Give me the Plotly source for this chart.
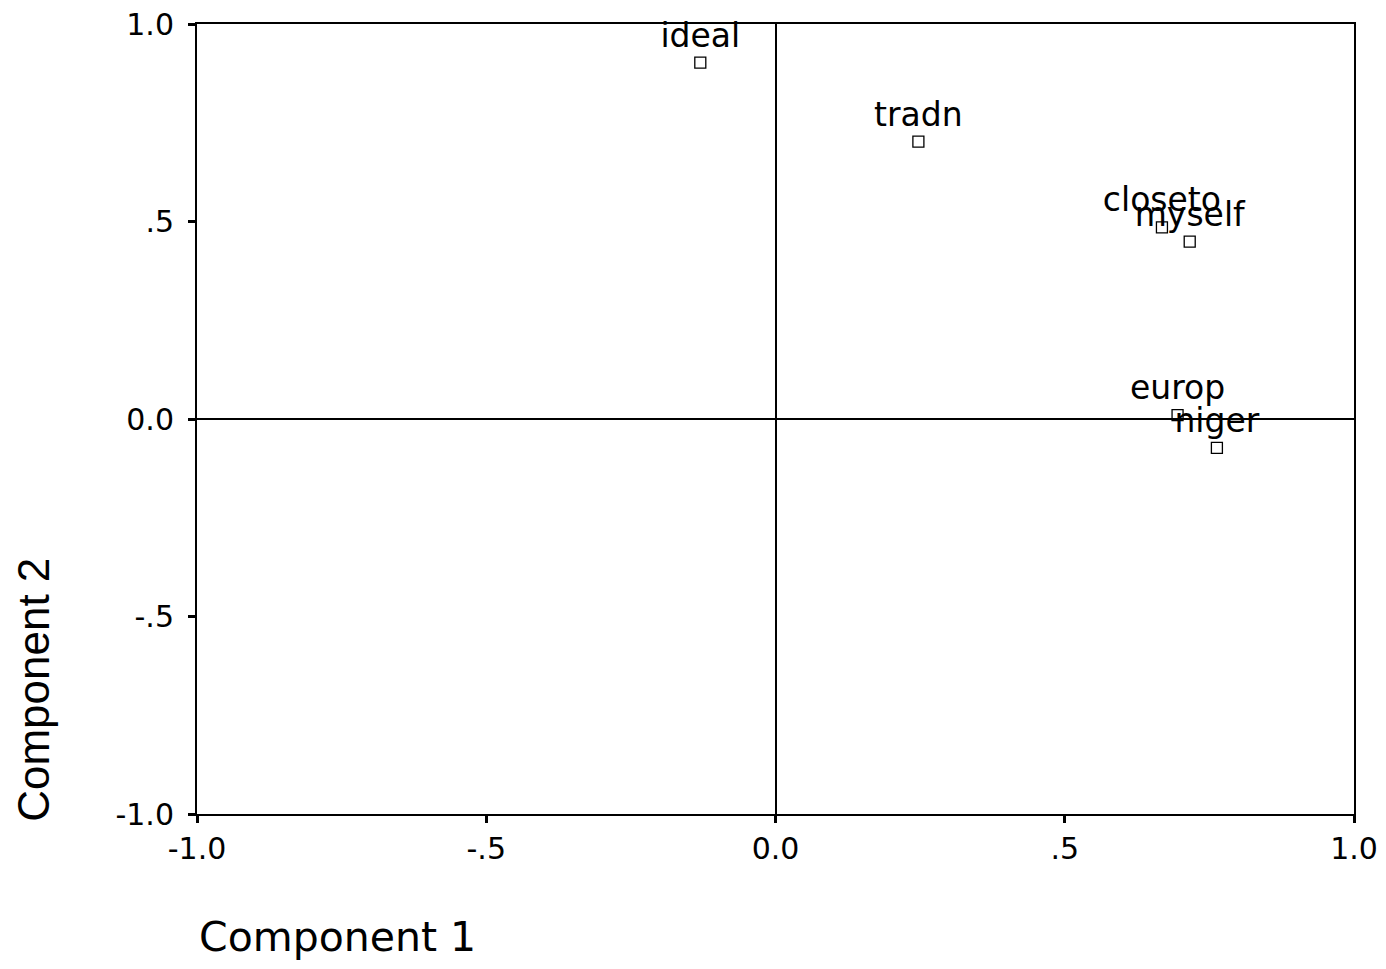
import plotly.graph_objects as go

labels = ["ideal", "tradn", "closeto", "myself", "europ", "niger"]
comp1 = [-0.130, 0.247, 0.668, 0.716, 0.695, 0.763]
comp2 = [0.902, 0.702, 0.485, 0.449, 0.010, -0.073]

tick_vals = [-1.0, -0.5, 0.0, 0.5, 1.0]
tick_text = ["-1.0", "-.5", "0.0", ".5", "1.0"]

FONT = "DejaVu Sans, Verdana, sans-serif"

fig = go.Figure()
fig.add_trace(go.Scatter(
    x=comp1, y=comp2, text=labels,
    mode="markers+text",
    textposition="top center",
    textfont=dict(family=FONT, size=33, color="black"),
    marker=dict(symbol="square-open", size=11, color="black", line=dict(width=1.3, color="black")),
    showlegend=False, cliponaxis=False,
))

axis_common = dict(
    range=[-1, 1], tickvals=tick_vals, ticktext=tick_text,
    showgrid=False, zeroline=True, zerolinecolor="black", zerolinewidth=2,
    showline=True, linecolor="black", linewidth=2, mirror=True,
    ticks="outside", ticklen=7, tickwidth=3, tickcolor="black",
    tickfont=dict(family=FONT, size=30, color="black"),
    ticklabeloverflow="allow", automargin=False,
)

fig.update_layout(
    width=1378, height=953,
    margin=dict(l=189, r=32, t=16, b=147, autoexpand=False),
    paper_bgcolor="white", plot_bgcolor="white",
    xaxis=dict(**axis_common),
    yaxis=dict(**axis_common, ticklabelstandoff=8),
    annotations=[
        dict(text="Component 1", xref="paper", yref="paper", x=0.0, y=-0.156,
             xanchor="left", yanchor="middle", showarrow=False,
             font=dict(family=FONT, size=41, color="black")),
        dict(text="Component 2", xref="paper", yref="paper", x=-0.141, y=0.157,
             xanchor="center", yanchor="middle", showarrow=False, textangle=-90,
             font=dict(family="Liberation Sans Narrow, Liberation Sans, Arial, sans-serif",
                       size=44, color="black")),
    ],
)

fig.write_html("out.html")
